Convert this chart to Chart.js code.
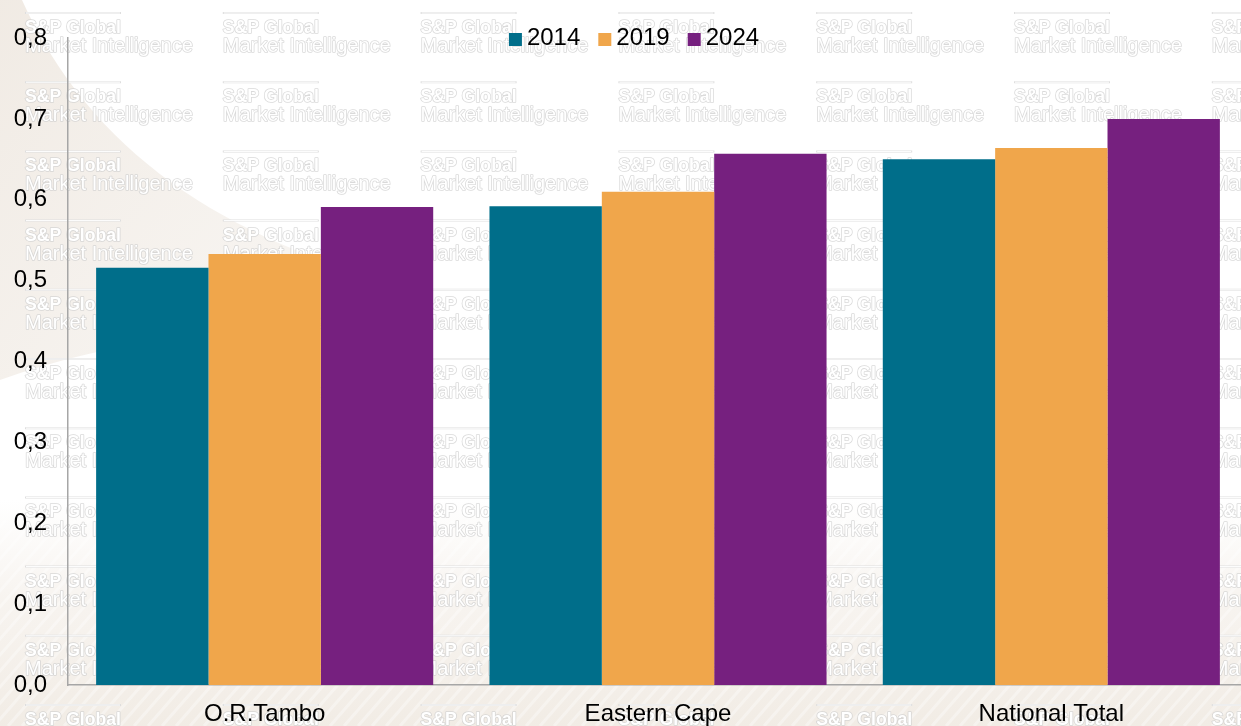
<!DOCTYPE html>
<html>
<head>
<meta charset="utf-8">
<title>Index 2014 / 2019 / 2024</title>
<script src="https://cdn.jsdelivr.net/npm/chart.js@4.4.1/dist/chart.umd.min.js"></script>
<style>
  html, body { margin: 0; padding: 0; overflow: hidden; background: #fff; }
  #wrap { width: 1248px; height: 726px; position: relative; }
</style>
</head>
<body>
<div id="wrap"><canvas id="myChart"></canvas></div>
<script>
// regions and values
var regions = ["O.R.Tambo", "Eastern Cape", "National Total"];
var years = ["2014", "2019", "2024"];
var values2014 = [0.516, 0.592, 0.650];
var values2019 = [0.533, 0.610, 0.664];
var values2024 = [0.591, 0.657, 0.700];
var yTicks = [0, 0.1, 0.2, 0.3, 0.4, 0.5, 0.6, 0.7, 0.8];

var colors = ["#006e8a", "#f0a64b", "#76207f"];
var fontFamily = "'Liberation Sans', Arial, sans-serif";

function commaNum(v) {
  return v.toFixed(1).replace(".", ",");
}

// beige backdrop with the repeated watermark
var backdrop = {
  id: "backdrop",
  beforeDraw: function (chart) {
    var ctx = chart.ctx;
    var w = chart.width, h = chart.height;
    ctx.save();
    ctx.fillStyle = "#ffffff";
    ctx.fillRect(0, 0, w, h);

    // upper left sweep
    var g = ctx.createLinearGradient(0, 0, 380, 300);
    g.addColorStop(0, "rgba(238,231,223,0.85)");
    g.addColorStop(1, "rgba(242,237,231,0.5)");
    ctx.fillStyle = g;
    ctx.beginPath();
    ctx.moveTo(0, 0);
    ctx.lineTo(22, 0);
    ctx.bezierCurveTo(90, 150, 220, 240, 420, 290);
    ctx.lineTo(420, 320);
    ctx.bezierCurveTo(260, 320, 110, 340, 0, 380);
    ctx.closePath();
    ctx.fill();

    // bottom band
    var b = ctx.createLinearGradient(0, 500, 0, h);
    b.addColorStop(0, "rgba(242,236,229,0)");
    b.addColorStop(0.45, "rgba(242,236,229,0.6)");
    b.addColorStop(1, "rgba(240,234,226,0.9)");
    ctx.fillStyle = b;
    ctx.fillRect(0, 500, w, h - 500);

    // faint stripes in the band
    ctx.strokeStyle = "rgba(255,255,255,0.35)";
    ctx.lineWidth = 3;
    for (var s = -300; s < w; s += 14) {
      ctx.beginPath();
      ctx.moveTo(s, h);
      ctx.lineTo(s + 180, 520);
      ctx.stroke();
    }

    // watermark grid: light outline, white fill on top
    var colStep = 197.8, rowStep = 69.2;
    ctx.textBaseline = "alphabetic";
    ctx.textAlign = "left";
    ctx.lineJoin = "round";
    for (var cx = 25; cx < w; cx += colStep) {
      for (var ry = 13; ry < h; ry += rowStep) {
        ctx.strokeStyle = "#dedede";
        ctx.lineWidth = 2;
        ctx.beginPath();
        ctx.moveTo(cx, ry);
        ctx.lineTo(cx + 96, ry);
        ctx.stroke();
        ctx.strokeStyle = "#ffffff";
        ctx.lineWidth = 1;
        ctx.beginPath();
        ctx.moveTo(cx + 1, ry);
        ctx.lineTo(cx + 95, ry);
        ctx.stroke();

        ctx.lineWidth = 1.6;
        ctx.strokeStyle = "rgba(205,205,205,0.75)";
        ctx.fillStyle = "#ffffff";
        ctx.font = "bold 18px " + fontFamily;
        ctx.strokeText("S&P Global", cx, ry + 20, 96);
        ctx.fillText("S&P Global", cx, ry + 20, 96);
        ctx.font = "20px " + fontFamily;
        ctx.strokeText("Market Intelligence", cx, ry + 39, 168);
        ctx.fillText("Market Intelligence", cx, ry + 39, 168);
      }
    }
    ctx.restore();
  }
};

// legend drawn inside the plot, above the bars
var topLegend = {
  id: "topLegend",
  afterDraw: function (chart) {
    var ctx = chart.ctx;
    var sets = chart.data.datasets;
    var box = 13, gapText = 5, gapItem = 18;
    ctx.save();
    ctx.font = "24px " + fontFamily;
    var total = 0;
    for (var i = 0; i < sets.length; i++) {
      total += box + gapText + ctx.measureText(sets[i].label).width;
      if (i < sets.length - 1) total += gapItem;
    }
    var x = 634 - total / 2;
    var baseY = 45;
    ctx.textBaseline = "alphabetic";
    ctx.textAlign = "left";
    for (var j = 0; j < sets.length; j++) {
      ctx.fillStyle = sets[j].backgroundColor;
      ctx.fillRect(x, baseY - 12, box, box);
      x += box + gapText;
      ctx.fillStyle = "#000";
      ctx.fillText(sets[j].label, x, baseY);
      x += ctx.measureText(sets[j].label).width + gapItem;
    }
    ctx.restore();
  }
};

var ctx = document.getElementById("myChart");

var chart = new Chart(ctx, {
  type: "bar",
  data: {
    labels: regions,
    datasets: [
      { label: years[0], data: values2014, backgroundColor: colors[0] },
      { label: years[1], data: values2019, backgroundColor: colors[1] },
      { label: years[2], data: values2024, backgroundColor: colors[2] }
    ]
  },
  options: {
    responsive: true,
    maintainAspectRatio: false,
    animation: false,
    layout: { padding: { top: 38, right: 0, bottom: 0, left: 0 } },
    datasets: {
      bar: { categoryPercentage: 0.857, barPercentage: 1.0, borderWidth: 0 }
    },
    plugins: {
      legend: { display: false },
      tooltip: { enabled: false }
    },
    scales: {
      x: {
        grid: { display: false, drawTicks: false },
        border: { display: true, color: "#a6a6a6", width: 1.5 },
        ticks: {
          color: "#000",
          padding: 15,
          font: { family: fontFamily, size: 24 },
          maxRotation: 0
        },
        afterFit: function (scale) { scale.height = 41; }
      },
      y: {
        min: 0,
        max: 0.8,
        grid: { display: false, drawTicks: false },
        border: { display: true, color: "#a6a6a6", width: 1.5 },
        afterBuildTicks: function (scale) {
          scale.ticks = yTicks.map(function (v) { return { value: v }; });
        },
        ticks: {
          color: "#000",
          padding: 21,
          font: { family: fontFamily, size: 24 },
          callback: function (v) { return commaNum(v); }
        },
        afterFit: function (scale) { scale.width = 68; }
      }
    }
  },
  plugins: [backdrop, topLegend]
});
</script>
</body>
</html>
